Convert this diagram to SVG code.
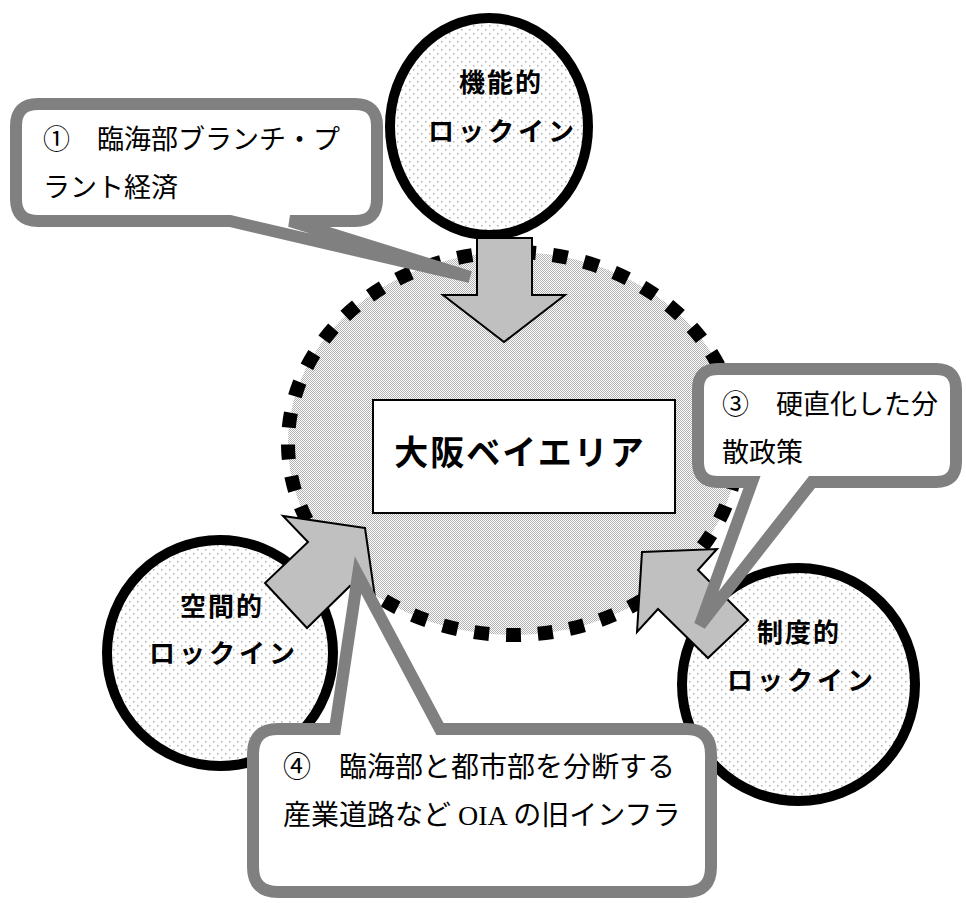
<svg xmlns="http://www.w3.org/2000/svg" width="966" height="903" viewBox="0 0 966 903">
<style>
.lock{fill:url(#dots);stroke:#000;stroke-width:10}
.lbl{font-family:"Noto Sans CJK JP","Noto Sans",sans-serif;font-weight:bold;font-size:26px;fill:#000;text-anchor:middle}
.arrow{fill:#c0c0c0;stroke:#000;stroke-width:2;stroke-linejoin:miter}
.call{fill:#fff;stroke:#808080;stroke-width:12}
.ct{font-family:"Liberation Serif","Noto Sans CJK JP",serif;font-size:27px;fill:#000}
.num{font-family:"Noto Sans CJK JP",sans-serif}
</style>
<defs>
<pattern id="dots" width="8" height="8" patternUnits="userSpaceOnUse">
<rect width="8" height="8" fill="#fff"/>
<rect x="1" y="1" width="1.5" height="1.5" fill="#b0b0b0"/>
<rect x="5" y="5" width="1.5" height="1.5" fill="#b0b0b0"/>
</pattern>
<pattern id="checker" width="2" height="2" patternUnits="userSpaceOnUse">
<rect width="2" height="2" fill="#fff"/>
<rect x="0" y="0" width="1" height="1" fill="#b0b0b0"/>
<rect x="1" y="1" width="1" height="1" fill="#b0b0b0"/>
</pattern>
</defs>
<rect width="966" height="903" fill="#fff"/>

<g id="osaka-bay-area">
<ellipse cx="513" cy="443.5" rx="225" ry="191.5" fill="url(#checker)" stroke="#000" stroke-width="14" pathLength="1312" stroke-dasharray="15 17"/>
<rect x="373" y="400" width="302" height="113" fill="#fff" stroke="#000" stroke-width="2"/>
<text x="520" y="465" style="font-family:'Noto Sans CJK JP','Noto Sans',sans-serif;font-weight:bold;font-size:34px;text-anchor:middle;letter-spacing:2px">大阪ベイエリア</text>
</g>

<g id="functional-lockin">
<ellipse class="lock" cx="489" cy="126.5" rx="99" ry="108.5"/>
<text class="lbl" x="501" y="92" style="letter-spacing:2px">機能的</text>
<text class="lbl" x="503" y="141" style="letter-spacing:4px">ロックイン</text>
</g>

<g id="spatial-lockin">
<ellipse class="lock" cx="220" cy="653" rx="113" ry="113"/>
<text class="lbl" x="222" y="616" style="letter-spacing:2px">空間的</text>
<text class="lbl" x="224" y="663" style="letter-spacing:4px">ロックイン</text>
</g>

<g id="institutional-lockin">
<ellipse class="lock" cx="798.5" cy="684.5" rx="116.5" ry="116.5"/>
<text class="lbl" x="799" y="642" style="letter-spacing:2px">制度的</text>
<text class="lbl" x="802" y="690" style="letter-spacing:4px">ロックイン</text>
</g>

<g id="connectors">
<polygon class="arrow" points="477,238 532,238 532,295 565,295 504,342 443,295 477,295"/>
<polygon class="arrow" points="365,528 283,516 308,542 265,583 307,628 350,586 377,611"/>
<polygon class="arrow" points="642,552 717,549 698,570 748,620 708,658 658,609 637,632"/>
</g>

<g id="callout-1">
<path class="call" d="M38,104 H355 Q377,104 377,126 V199 Q377,221 355,221 H290 L470,277 L230,221 H38 Q16,221 16,199 V126 Q16,104 38,104 Z"/>
<text class="ct" x="43" y="149"><tspan class="num">①</tspan>　臨海部ブランチ・プ</text>
<text class="ct" x="43" y="197">ラント経済</text>
</g>

<g id="callout-3">
<path class="call" d="M718,369 H936 Q956,369 956,389 V462 Q956,482 936,482 H812 L700,625 L752,482 H718 Q698,482 698,462 V389 Q698,369 718,369 Z"/>
<text class="ct" x="722" y="414"><tspan class="num">③</tspan>　硬直化した分</text>
<text class="ct" x="722" y="462">散政策</text>
</g>

<g id="callout-4">
<path class="call" d="M278,729 H335 L358,575 L440,729 H686 Q711,729 711,754 V867 Q711,892 686,892 H278 Q253,892 253,867 V754 Q253,729 278,729 Z"/>
<text class="ct" x="283" y="777" style="font-size:28px"><tspan class="num">④</tspan>　臨海部と都市部を分断する</text>
<text class="ct" x="283" y="825" style="font-size:28px">産業道路など OIA の旧インフラ</text>
</g>
</svg>
